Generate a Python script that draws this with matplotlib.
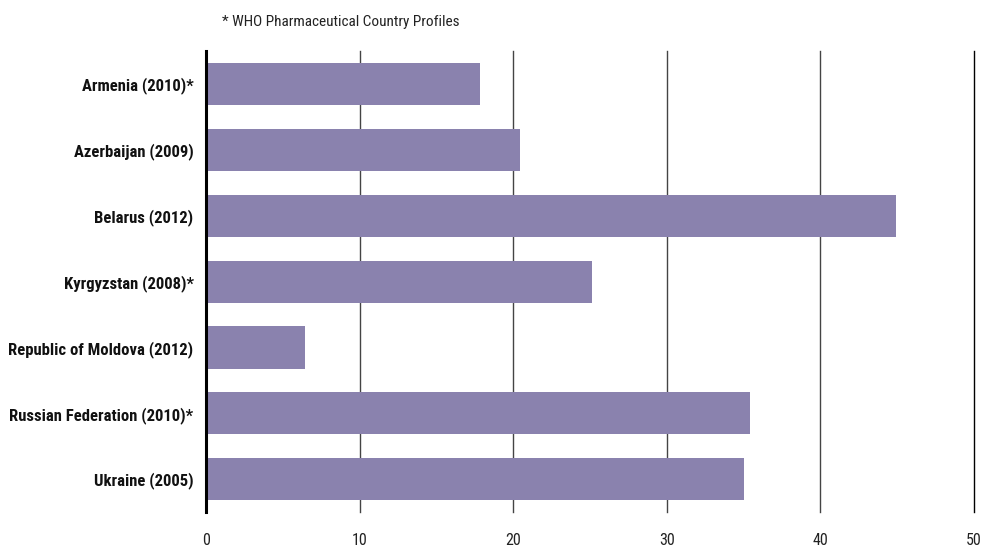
import matplotlib
matplotlib.use("Agg")
import matplotlib.pyplot as plt
import numpy as np

countries = [
    "Armenia (2010)*",
    "Azerbaijan (2009)",
    "Belarus (2012)",
    "Kyrgyzstan (2008)*",
    "Republic of Moldova (2012)",
    "Russian Federation (2010)*",
    "Ukraine (2005)",
]
values = [17.85, 20.45, 44.9, 25.1, 6.45, 35.4, 35.0]
x_ticks = [0, 10, 20, 30, 40, 50]
note = "* WHO Pharmaceutical Country Profiles"

plt.rcParams["font.family"] = ["Roboto Condensed", "Roboto", "DejaVu Sans"]

fig = plt.figure(figsize=(9.82, 5.5), dpi=100)
ax = fig.add_axes([0.2098, 0.069, 0.7821, 0.838])

y = np.arange(len(countries))
ax.barh(y, values, height=0.64, color="#8a82ae", zorder=2)

ax.set_xlim(0, 50)
ax.set_ylim(len(countries) - 0.5, -0.5)
ax.set_xticks(x_ticks)
ax.set_xticklabels([str(t) for t in x_ticks], fontsize=11.5, color="#222222")
ax.set_yticks(y)
ax.set_yticklabels(countries, fontsize=12, fontweight="bold", color="#111111")
ax.tick_params(axis="x", length=0, pad=15)
ax.tick_params(axis="y", length=0, pad=9)

for t in x_ticks[1:]:
    ax.axvline(t, color="#444444" if t < 50 else "#000000", linewidth=1.0,
               zorder=1, clip_on=False)

for s in ["top", "right", "bottom"]:
    ax.spines[s].set_visible(False)
ax.spines["left"].set_linewidth(2.2)
ax.spines["left"].set_color("#000000")
ax.spines["left"].set_zorder(3)

fig.text(222 / 982, 1 - 22 / 550, note, fontsize=11, color="#222222", va="center", ha="left")

fig.savefig("out.png", dpi=100)
